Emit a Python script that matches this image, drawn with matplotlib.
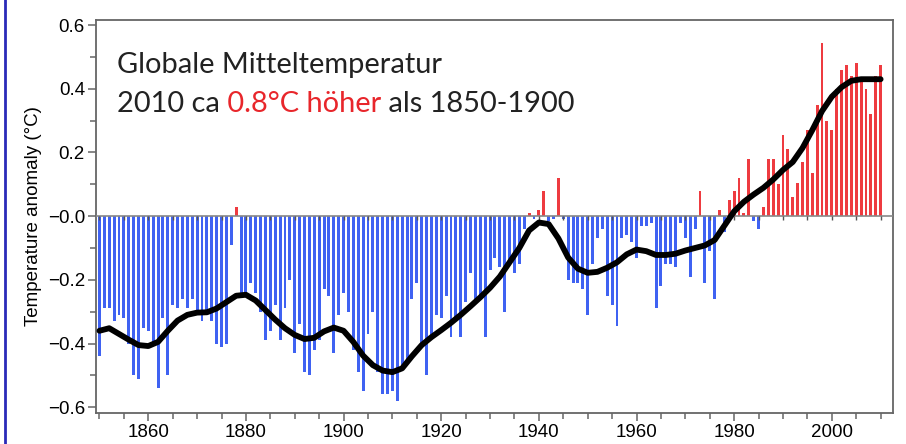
import numpy as np
import matplotlib
matplotlib.use("Agg")
import matplotlib.pyplot as plt
from matplotlib.lines import Line2D
from matplotlib.ticker import MultipleLocator, FixedLocator

# jährliche Anomalie (°C) 1850-2010
jahre = np.arange(1850, 2011)
anomalie = [
    -0.44, -0.29, -0.29, -0.33, -0.31, -0.32, -0.40, -0.50, -0.51, -0.35,  # 1850
    -0.36, -0.40, -0.54, -0.32, -0.50, -0.28, -0.29, -0.26, -0.29, -0.26,  # 1860
    -0.30, -0.33, -0.30, -0.33, -0.40, -0.41, -0.40, -0.09, 0.03, -0.25,   # 1870
    -0.24, -0.21, -0.24, -0.30, -0.39, -0.36, -0.28, -0.39, -0.29, -0.20,  # 1880
    -0.43, -0.34, -0.49, -0.50, -0.42, -0.39, -0.23, -0.25, -0.43, -0.31,  # 1890
    -0.24, -0.30, -0.42, -0.49, -0.55, -0.37, -0.30, -0.49, -0.56, -0.56,  # 1900
    -0.55, -0.58, -0.48, -0.46, -0.26, -0.21, -0.40, -0.50, -0.38, -0.31,  # 1910
    -0.32, -0.25, -0.38, -0.33, -0.38, -0.27, -0.18, -0.27, -0.26, -0.38,  # 1920
    -0.17, -0.13, -0.16, -0.30, -0.15, -0.18, -0.15, -0.04, 0.01, -0.01,   # 1930
    0.02, 0.08, -0.015, -0.01, 0.12, -0.01, -0.20, -0.21, -0.21, -0.23,    # 1940
    -0.31, -0.15, -0.07, -0.04, -0.25, -0.28, -0.345, -0.07, -0.06, -0.08, # 1950
    -0.13, -0.03, -0.03, -0.02, -0.29, -0.22, -0.15, -0.15, -0.16, -0.02,  # 1960
    -0.07, -0.19, -0.04, 0.08, -0.21, -0.11, -0.26, 0.02, -0.05, 0.05,     # 1970
    0.08, 0.12, 0.01, 0.18, -0.015, -0.04, 0.03, 0.18, 0.18, 0.10,        # 1980
    0.255, 0.21, 0.06, 0.105, 0.17, 0.27, 0.135, 0.35, 0.545, 0.30,       # 1990
    0.27, 0.40, 0.46, 0.475, 0.44, 0.48, 0.43, 0.40, 0.32, 0.44,          # 2000
    0.475,                                                                 # 2010
]
anomalie = np.array(anomalie)

glatt_jahre = np.arange(1850, 2011, 2)
glatt = [
    -0.36, -0.352, -0.37, -0.388, -0.405, -0.408, -0.395, -0.36, -0.328, -0.31,
    -0.303, -0.302, -0.29, -0.27, -0.25, -0.247, -0.265, -0.295, -0.325, -0.352,
    -0.373, -0.386, -0.382, -0.362, -0.35, -0.36, -0.395, -0.438, -0.468, -0.485,
    -0.49, -0.478, -0.44, -0.405, -0.38, -0.358, -0.335, -0.31, -0.283, -0.255,
    -0.225, -0.19, -0.145, -0.10, -0.045, -0.02, -0.025, -0.07, -0.13, -0.165,
    -0.178, -0.175, -0.162, -0.145, -0.12, -0.105, -0.11, -0.122, -0.122, -0.118,
    -0.108, -0.10, -0.092, -0.075, -0.03, 0.015, 0.045, 0.068, 0.089, 0.115,
    0.145, 0.17, 0.214, 0.27, 0.33, 0.375, 0.405, 0.425, 0.43, 0.43,
    0.43,
]

ytick_werte = [-0.6, -0.4, -0.2, 0.0, 0.2, 0.4, 0.6]
ytick_texte = ["\u22120.6", "\u22120.4", "\u22120.2", "\u22120.0", "0.2", "0.4", "0.6"]
xtick_jahre = [1860, 1880, 1900, 1920, 1940, 1960, 1980, 2000]

blau = "#3f62f2"
rot = "#ee3b40"
grau = "#666666"

fig = plt.figure(figsize=(9.06, 4.44), dpi=100)
ax = fig.add_axes([0.106, 0.070, 0.880, 0.885])

farben = [rot if v > 0 else blau for v in anomalie]
ax.bar(jahre, anomalie, width=0.6, color=farben, zorder=2)
ax.axhline(0, color="#888888", lw=1.2, zorder=3)
# kleine Striche auf der Nulllinie
ax.vlines(np.arange(1850, 2011, 5), -0.012, 0, color="#555555", lw=1, zorder=3)
ax.plot(glatt_jahre, glatt, color="black", lw=4.2, solid_capstyle="round",
        solid_joinstyle="round", zorder=4)

ax.set_xlim(1849.3, 2012.6)
ax.set_ylim(-0.618, 0.616)

ax.set_yticks(ytick_werte)
ax.set_yticklabels(ytick_texte, family="Liberation Sans", fontsize=13.5)
ax.yaxis.set_minor_locator(MultipleLocator(0.1))
ax.xaxis.set_major_locator(FixedLocator(xtick_jahre))
ax.xaxis.set_minor_locator(MultipleLocator(5))
ax.set_xticklabels([str(j) for j in xtick_jahre], family="Liberation Sans", fontsize=13.5)
ax.tick_params(which="major", direction="out", length=6, width=1.1, color=grau, pad=2)
ax.tick_params(which="minor", direction="out", length=4, width=1.1, color=grau)
for s in ax.spines.values():
    s.set_color(grau)
    s.set_linewidth(1.3)

ax.set_ylabel("Temperature anomaly (\u00b0C)", family="Liberation Sans", fontsize=13.5, labelpad=4)

# Titeltext, zweifarbig
schrift = dict(family="Lato", fontsize=20.9)
fig.text(0.129, 0.836, "Globale Mitteltemperatur", color="#222222", va="baseline", **schrift)
t1 = fig.text(0.129, 0.748, "2010 ca", color="#222222", va="baseline", **schrift)
t2 = ax.annotate(" 0.8\u00b0C h\u00f6her", xy=(1, 0), xycoords=t1, va="bottom",
                 color="#e8262b", **schrift)
ax.annotate(" als 1850-1900", xy=(1, 0), xycoords=t2, va="bottom", color="#222222", **schrift)

# blaue Linie am linken Bildrand
fig.add_artist(Line2D([0.006, 0.006], [0, 1], transform=fig.transFigure, color="#2a2ab8", lw=2))

fig.savefig("out.png", dpi=100)
